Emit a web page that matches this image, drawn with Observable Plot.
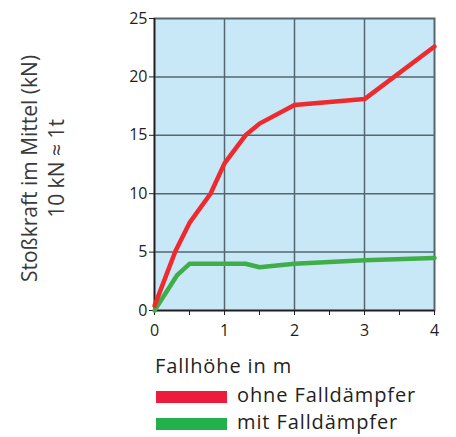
<!DOCTYPE html>
<html>
<head>
<meta charset="utf-8">
<script src="https://cdn.jsdelivr.net/npm/d3@7"></script>
<script src="https://cdn.jsdelivr.net/npm/@observablehq/plot@0.6"></script>
<style>
  html, body { margin: 0; padding: 0; background: #fff; }
  body { width: 456px; height: 437px; overflow: hidden; font-family: "Open Sans", sans-serif; color: #231f20; }
  #legend { position: relative; height: 92px; font-size: 20px; letter-spacing: 0.9px; }
  #legend div { position: absolute; white-space: nowrap; line-height: 1; }
</style>
</head>
<body>
<div id="chart"></div>
<div id="legend"></div>
<script>
const hoeheOhne = [0, 0.3, 0.5, 0.8, 1.0, 1.3, 1.5, 2, 3, 4];
const kraftOhne = [0.4, 5.1, 7.5, 10, 12.6, 15, 16, 17.6, 18.1, 22.6];
const hoeheMit = [0, 0.32, 0.5, 1.3, 1.5, 2, 3, 4];
const kraftMit = [0, 3, 4, 4, 3.7, 4, 4.3, 4.5];
const yTicks = [0, 5, 10, 15, 20, 25];
const xTicks = [0, 1, 2, 3, 4];
const xMinor = [0.5, 1.5, 2.5, 3.5];
const seriesNames = ["ohne Falldämpfer", "mit Falldämpfer"];
const seriesColors = ["#ee2a2e", "#3fae49"];
const legendColors = ["#ed1c3c", "#22b14c"];
const xTitle = "Fallhöhe in m";
const yTitle1 = "Stoßkraft im Mittel (kN)";
const yTitle2 = "10 kN ≈ 1t";

const ohne = hoeheOhne.map((h, i) => ({h, k: kraftOhne[i]}));
const mit = hoeheMit.map((h, i) => ({h, k: kraftMit[i]}));

const grid = "#56666e";
const chart = Plot.plot({
  width: 456, height: 345,
  marginLeft: 154, marginRight: 22, marginTop: 18, marginBottom: 35,
  x: {domain: [0, 4]},
  y: {domain: [0, 25]},
  style: {fontFamily: "Open Sans", fontSize: "16px", color: "#231f20", background: "#fff"},
  marks: [
    Plot.frame({fill: "#c8e8f7"}),
    Plot.gridX([1, 2, 3], {stroke: grid, strokeOpacity: 1, strokeWidth: 1.5}),
    Plot.gridY([5, 10, 15, 20], {stroke: grid, strokeOpacity: 1, strokeWidth: 1.5}),
    Plot.frame({stroke: grid, strokeWidth: 2}),
    Plot.ruleX([0], {stroke: "#231f20", strokeWidth: 1.5}),
    Plot.ruleY([0], {stroke: "#231f20", strokeWidth: 1.5}),
    Plot.axisY({ticks: yTicks, tickSize: 5, tickPadding: 2, tickFormat: d3.format("d"), label: null, stroke: "#231f20"}),
    Plot.axisX({ticks: xTicks, tickSize: 5, tickPadding: 9, tickFormat: d3.format("d"), label: null, stroke: "#231f20"}),
    Plot.axisX({ticks: xMinor, tickSize: 5, tickFormat: () => "", label: null, stroke: "#231f20"}),
    Plot.line(mit, {x: "h", y: "k", stroke: seriesColors[1], strokeWidth: 4.5, strokeLinejoin: "round"}),
    Plot.line(ohne, {x: "h", y: "k", stroke: seriesColors[0], strokeWidth: 4.5, strokeLinejoin: "round"}),
    Plot.text([yTitle1], {frameAnchor: "left", textAnchor: "middle", rotate: -90, dx: -124, dy: 4, fontSize: 21, fill: "#3a3a3a", style: "letter-spacing:0.5px"}),
    Plot.text([yTitle2], {frameAnchor: "left", textAnchor: "middle", rotate: -90, dx: -97, dy: 4, fontSize: 21, fill: "#3a3a3a"})
  ]
});
document.getElementById("chart").appendChild(chart);

const legend = document.getElementById("legend");
function add(txt, style) {
  const d = document.createElement("div");
  d.textContent = txt;
  Object.assign(d.style, style);
  legend.appendChild(d);
  return d;
}
add(xTitle, {left: "155px", top: "11px"});
seriesNames.forEach((name, i) => {
  add("", {left: "156px", top: (46 + i * 27) + "px", width: "71px", height: "12px", background: legendColors[i]});
  add(name, {left: "237px", top: (40 + i * 27) + "px"});
});
</script>
</body>
</html>
